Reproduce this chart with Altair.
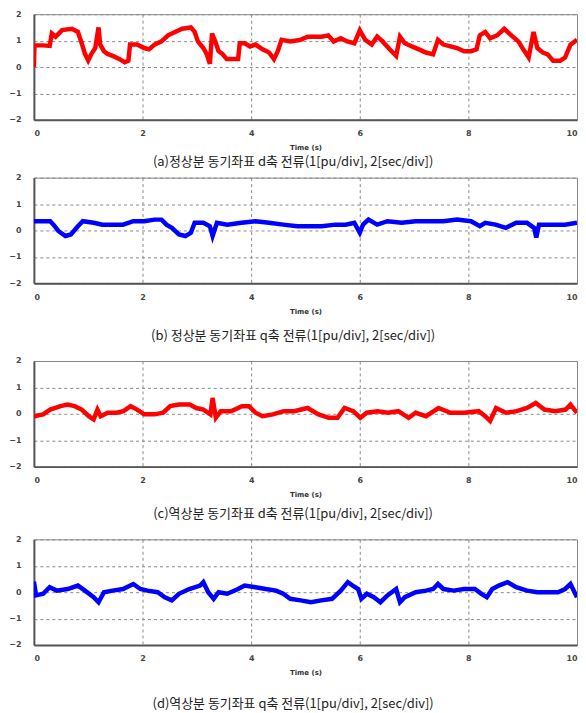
import altair as alt
import pandas as pd

# ---- data (time in s, current in pu) ----
t_a = [0.0, 0.01, 0.17, 0.29, 0.33, 0.4, 0.52, 0.7, 0.81, 0.87, 0.94, 1.0, 1.06, 1.13, 1.19, 1.22, 1.29, 1.35,
       1.45, 1.58, 1.67, 1.74, 1.77, 1.9, 2.03, 2.12, 2.22, 2.35, 2.47, 2.6, 2.73, 2.89, 2.96, 3.02, 3.12, 3.18,
       3.24, 3.28, 3.34, 3.4, 3.47, 3.55, 3.76, 3.79, 3.88, 3.98, 4.08, 4.21, 4.33, 4.42, 4.49, 4.56, 4.72, 4.91,
       5.04, 5.17, 5.3, 5.42, 5.52, 5.65, 5.77, 5.9, 6.0, 6.1, 6.22, 6.32, 6.42, 6.55, 6.67, 6.74, 6.83, 6.96,
       7.09, 7.22, 7.35, 7.44, 7.54, 7.67, 7.79, 7.92, 8.05, 8.15, 8.21, 8.31, 8.4, 8.53, 8.66, 8.79, 8.92, 9.01,
       9.11, 9.2, 9.27, 9.37, 9.46, 9.56, 9.69, 9.78, 9.88, 10.0]
v_a = [0.0, 0.82, 0.82, 0.8, 1.27, 1.15, 1.4, 1.45, 1.33, 0.97, 0.5, 0.25, 0.5, 0.72, 1.5, 0.85, 0.6, 0.5,
       0.42, 0.3, 0.18, 0.24, 0.85, 0.85, 0.72, 0.67, 0.85, 0.97, 1.2, 1.33, 1.45, 1.5, 1.33, 0.97, 0.72, 0.5,
       0.12, 1.27, 0.97, 0.6, 0.5, 0.3, 0.3, 0.9, 0.9, 0.78, 0.85, 0.67, 0.55, 0.3, 0.6, 1.03, 0.97, 1.03,
       1.15, 1.15, 1.15, 1.2, 0.97, 1.09, 0.97, 0.9, 1.39, 1.03, 0.85, 1.15, 0.97, 0.67, 0.42, 1.15, 0.9, 0.78,
       0.67, 0.55, 0.48, 1.03, 0.85, 0.78, 0.72, 0.6, 0.6, 0.67, 1.2, 1.33, 1.09, 1.2, 1.45, 1.2, 0.97, 0.67,
       0.36, 1.33, 0.72, 0.55, 0.48, 0.24, 0.24, 0.36, 0.85, 1.03]

t_b = [0.0, 0.3, 0.36, 0.45, 0.58, 0.68, 0.81, 0.9, 1.1, 1.26, 1.45, 1.64, 1.83, 2.03, 2.22, 2.35, 2.44, 2.54,
       2.67, 2.79, 2.89, 2.96, 3.12, 3.24, 3.29, 3.37, 3.56, 3.82, 4.08, 4.33, 4.59, 4.85, 5.04, 5.3, 5.55, 5.74,
       5.9, 6.0, 6.06, 6.16, 6.32, 6.51, 6.77, 7.03, 7.28, 7.54, 7.79, 8.05, 8.21, 8.31, 8.5, 8.69, 8.88, 9.08,
       9.21, 9.25, 9.3, 9.53, 9.78, 10.0]
v_b = [0.35, 0.35, 0.22, -0.02, -0.21, -0.15, 0.16, 0.35, 0.29, 0.22, 0.22, 0.22, 0.35, 0.35, 0.41, 0.41, 0.22, 0.1,
       -0.15, -0.21, -0.09, 0.29, 0.29, 0.16, -0.21, 0.29, 0.22, 0.29, 0.35, 0.29, 0.22, 0.16, 0.16, 0.16, 0.22, 0.22,
       0.29, -0.09, 0.22, 0.41, 0.22, 0.35, 0.29, 0.35, 0.35, 0.35, 0.41, 0.35, 0.16, 0.29, 0.22, 0.1, 0.29, 0.29,
       0.1, -0.27, 0.22, 0.22, 0.22, 0.29]

t_c = [0.0, 0.17, 0.3, 0.49, 0.62, 0.75, 0.88, 1.01, 1.1, 1.17, 1.23, 1.36, 1.52, 1.65, 1.78, 1.9, 2.03, 2.22,
       2.38, 2.51, 2.67, 2.87, 2.99, 3.12, 3.25, 3.29, 3.35, 3.44, 3.63, 3.83, 3.96, 4.08, 4.21, 4.4, 4.6, 4.79,
       5.04, 5.24, 5.43, 5.59, 5.72, 5.88, 6.01, 6.13, 6.33, 6.52, 6.71, 6.9, 7.03, 7.22, 7.45, 7.67, 7.93, 8.19,
       8.31, 8.4, 8.51, 8.69, 8.89, 9.08, 9.24, 9.4, 9.6, 9.79, 9.88, 10.0]
v_c = [-0.09, -0.02, 0.16, 0.29, 0.35, 0.29, 0.16, -0.09, -0.21, 0.16, -0.09, 0.04, 0.04, 0.1, 0.29, 0.16, -0.02, -0.02,
       0.04, 0.29, 0.35, 0.35, 0.22, 0.16, -0.02, 0.6, -0.15, 0.1, 0.1, 0.29, 0.29, 0.04, -0.09, -0.02, 0.1, 0.1,
       0.22, -0.02, -0.15, -0.15, 0.22, 0.1, -0.15, 0.04, 0.1, 0.04, 0.1, -0.15, 0.04, -0.09, 0.22, 0.04, 0.04, 0.1,
       -0.09, -0.27, 0.22, 0.04, 0.1, 0.22, 0.41, 0.16, 0.1, 0.16, 0.35, 0.04]

t_d = [0.0, 0.04, 0.17, 0.29, 0.42, 0.62, 0.81, 0.94, 1.1, 1.19, 1.29, 1.45, 1.64, 1.83, 1.96, 2.09, 2.28, 2.41,
       2.54, 2.67, 2.86, 3.06, 3.12, 3.21, 3.31, 3.4, 3.56, 3.76, 3.88, 4.08, 4.27, 4.46, 4.59, 4.72, 4.91, 5.1,
       5.29, 5.49, 5.65, 5.78, 5.87, 5.97, 6.03, 6.13, 6.26, 6.38, 6.51, 6.67, 6.74, 6.83, 7.03, 7.22, 7.35, 7.44,
       7.54, 7.73, 7.92, 8.12, 8.24, 8.34, 8.44, 8.56, 8.72, 8.88, 9.08, 9.27, 9.46, 9.65, 9.78, 9.88, 10.0]
v_d = [0.4, -0.12, -0.06, 0.19, 0.06, 0.12, 0.25, 0.06, -0.19, -0.38, 0.0, 0.06, 0.12, 0.31, 0.12, 0.06, 0.0, -0.19,
       -0.31, -0.06, 0.12, 0.25, 0.38, 0.0, -0.25, 0.0, -0.06, 0.12, 0.25, 0.19, 0.12, 0.06, -0.06, -0.25, -0.31, -0.38,
       -0.31, -0.25, 0.06, 0.38, 0.25, 0.12, -0.25, -0.06, -0.19, -0.38, -0.12, 0.12, -0.38, -0.19, 0.0, 0.06, 0.12, 0.31,
       0.12, 0.06, 0.12, 0.12, -0.06, -0.19, 0.12, 0.25, 0.38, 0.19, 0.06, 0.0, 0.0, 0.0, 0.12, 0.31, -0.19]

x_ticks = [0, 2, 4, 6, 8, 10]
y_ticks = [-2, -1, 0, 1, 2]

captions = [
    "(a)정상분 동기좌표 d축 전류(1[pu/div], 2[sec/div])",
    "(b) 정상분 동기좌표 q축 전류(1[pu/div], 2[sec/div])",
    "(c)역상분 동기좌표 d축 전류(1[pu/div], 2[sec/div])",
    "(d)역상분 동기좌표 q축 전류(1[pu/div], 2[sec/div])",
]
colors = ["#ff0000", "#0000ff", "#ff0000", "#0000ff"]
series = [(t_a, v_a), (t_b, v_b), (t_c, v_c), (t_d, v_d)]
offsets = [5, 16, 11, 22]

W, H = 545, 106


def panel(t, v, color, caption, off):
    df = pd.DataFrame({"t": t, "v": v})
    x = alt.X("t:Q", title="Time (s)",
              scale=alt.Scale(domain=[0, 10], nice=False, zero=False),
              axis=alt.Axis(values=x_ticks, grid=True, gridDash=[3, 3], gridColor="#8a8a8a",
                            gridWidth=1, tickSize=0, labelPadding=10, labelFontSize=8,
                            labelFont="DejaVu Sans", labelFontWeight="bold", labelColor="#444",
                            titleFont="DejaVu Sans", titleFontSize=7, titleFontWeight="bold",
                            titleColor="#333", titlePadding=6, domainColor="#555", domainWidth=2))
    y = alt.Y("v:Q", title=None,
              scale=alt.Scale(domain=[-2, 2], nice=False, zero=False),
              axis=alt.Axis(values=y_ticks, grid=True, gridDash=[3, 3], gridColor="#8a8a8a",
                            gridWidth=1, tickSize=0, labelPadding=13, labelFontSize=8,
                            labelFont="DejaVu Sans", labelFontWeight="bold", labelColor="#444",
                            domainColor="#555", domainWidth=2))
    return (
        alt.Chart(df)
        .mark_line(color=color, strokeWidth=4.5, clip=True, strokeJoin="miter")
        .encode(x=x, y=y, order="t:Q")
        .properties(width=W, height=H,
                    title=alt.TitleParams(text=caption, orient="bottom", anchor="middle",
                                          frame="bounds", offset=off, fontSize=13,
                                          font="Noto Sans CJK KR", fontWeight="normal",
                                          color="#222"))
    )


panels = [panel(t, v, c, cap, o) for (t, v), c, cap, o in zip(series, colors, captions, offsets)]

chart = (
    alt.vconcat(panels[0], alt.vconcat(panels[1], panels[2], panels[3], spacing=12), spacing=3)
    .properties(padding={"left": 0, "top": 0, "right": 0, "bottom": 0}, background="white")
    .configure_view(stroke="#888", strokeWidth=1)
)

chart.save("out.html", embed_options={"renderer": "svg", "actions": False})
